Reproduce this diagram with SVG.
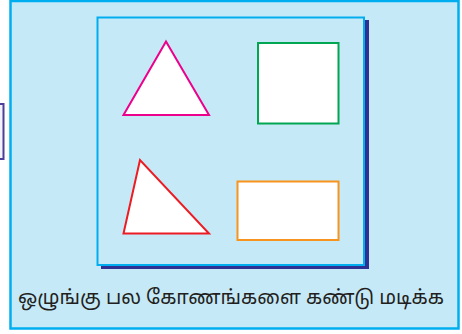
<svg xmlns="http://www.w3.org/2000/svg" width="462" height="334" viewBox="0 0 462 334">
<style>
.shape{fill:#ffffff;stroke-width:2;stroke-linejoin:miter}
.lbl{font-family:"Noto Sans Tamil","Noto Sans","DejaVu Sans",sans-serif;font-size:19.6px;fill:#231f20}
</style>
<rect x="0" y="0" width="462" height="334" fill="#ffffff"/>
<rect id="left-fragment" x="-6" y="104" width="9.5" height="55" fill="#f3f1fa" stroke="#4b3f9a" stroke-width="2"/>
<g id="frame">
<rect x="10.5" y="1" width="448" height="327.5" fill="#c6e9f8" stroke="#00aeef" stroke-width="2.5"/>
</g>
<g id="panel">
<rect x="101" y="20" width="268" height="249" fill="#2e3192"/>
<rect x="97.5" y="17.5" width="266.5" height="247.5" fill="#c6e9f8" stroke="#00aeef" stroke-width="2"/>
</g>
<g id="triangle-pink"><polygon class="shape" points="166,41.5 123.5,115 209,115" stroke="#ec008c"/></g>
<g id="square-green"><rect class="shape" x="258" y="43" width="80.5" height="80.5" stroke="#00a651"/></g>
<g id="triangle-red"><polygon class="shape" points="140,160 123.5,233.5 209,233.5" stroke="#ed1c24"/></g>
<g id="rect-orange"><rect class="shape" x="237.5" y="181.5" width="101" height="58.5" stroke="#f7941d"/></g>
<g id="caption"><text class="lbl" x="231" y="304" text-anchor="middle">ஒழுங்கு பல கோணங்களை கண்டு மடிக்க</text></g>
<g id="connectors"/>
</svg>
